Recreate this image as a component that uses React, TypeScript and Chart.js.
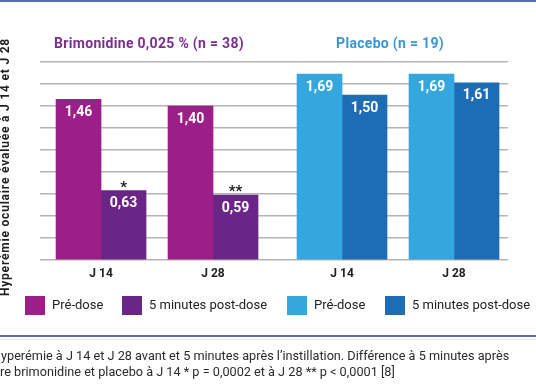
import { useEffect, useRef } from "react";
import { Chart, registerables } from "chart.js";

Chart.register(...registerables);

// ---- data ----
const categories = ["J 14", "J 28", "J 14", "J 28"];
const groupOfCategory = [0, 0, 1, 1];
const groupTitles = ["Brimonidine 0,025 % (n = 38)", "Placebo (n = 19)"];
const preDose = [1.46, 1.4, 1.69, 1.69];
const postDose = [0.63, 0.59, 1.5, 1.61];
const significance = ["*", "**", "", ""];
const legendLabels = ["Pré-dose", "5 minutes post-dose", "Pré-dose", "5 minutes post-dose"];
const yMin = 0;
const yMax = 1.8;
const yStep = 0.2;
const yAxisTitle = "Hyperémie oculaire évaluée à J 14 et J 28";
const footnoteLines = [
  "Hyperémie à J 14 et J 28 avant et 5 minutes après l’instillation. Différence à 5 minutes après",
  "entre brimonidine et placebo à J 14 * p = 0,0002 et à J 28 ** p < 0,0001 [8]",
];

// ---- styles ----
const MAGENTA = "#9c1f89";
const PURPLE = "#6a2686";
const LIGHTBLUE = "#35a7df";
const DARKBLUE = "#1d6db4";
const groupColorsPre = [MAGENTA, LIGHTBLUE];
const groupColorsPost = [PURPLE, DARKBLUE];
const titleColors = ["#7b2e8e", "#3897d3"];
const legendColors = [MAGENTA, PURPLE, LIGHTBLUE, DARKBLUE];
const FONT = "Roboto, 'DejaVu Sans', sans-serif";
const GROUP_GAP = 0.152;

const fmt = (v: number) => v.toFixed(2).replace(".", ",");

export default function App() {
  const ref = useRef<HTMLCanvasElement | null>(null);

  useEffect(() => {
    if (!ref.current) return;
    const xs = categories.map((_, i) => i + groupOfCategory[i] * GROUP_GAP);

    const overlay = {
      id: "overlay",
      afterDatasetsDraw(chart: any) {
        const ctx = chart.ctx;
        ctx.save();
        [0, 1].forEach((di) => {
          const meta = chart.getDatasetMeta(di);
          const vals = di === 0 ? preDose : postDose;
          meta.data.forEach((bar: any, i: number) => {
            ctx.fillStyle = "#ffffff";
            ctx.font = `bold 14px ${FONT}`;
            ctx.textAlign = "center";
            ctx.textBaseline = "middle";
            ctx.fillText(fmt(vals[i]), bar.x, bar.y + 13);
            if (di === 1 && significance[i]) {
              ctx.fillStyle = "#1a1a1a";
              ctx.font = `bold 15px ${FONT}`;
              ctx.textBaseline = "alphabetic";
              ctx.fillText(significance[i], bar.x, bar.y + 1);
            }
          });
        });
        ctx.restore();
      },
      afterDraw(chart: any) {
        const ctx = chart.ctx;
        const xScale = chart.scales.x;
        ctx.save();
        // top band
        ctx.fillStyle = "#5a6dad";
        ctx.fillRect(0, 0, 536, 2);
        // group titles
        ctx.font = `bold 14px ${FONT}`;
        (ctx as any).letterSpacing = "0.3px";
        ctx.textAlign = "center";
        ctx.textBaseline = "middle";
        groupTitles.forEach((t, g) => {
          const idx = groupOfCategory
            .map((gg, i) => (gg === g ? i : -1))
            .filter((i) => i >= 0);
          const cx =
            (xScale.getPixelForValue(xs[idx[0]]) +
              xScale.getPixelForValue(xs[idx[idx.length - 1]])) /
              2 -
            8;
          ctx.fillStyle = titleColors[g];
          ctx.fillText(t, cx, 44);
        });
        // y axis title
        ctx.save();
        ctx.translate(6, 167);
        ctx.rotate(-Math.PI / 2);
        ctx.fillStyle = "#1e1e1e";
        ctx.font = `bold 12px ${FONT}`;
        (ctx as any).letterSpacing = "0.8px";
        ctx.fillText(yAxisTitle, 0, 0);
        ctx.restore();
        (ctx as any).letterSpacing = "0px";
        // legend
        const boxX = [25, 122, 287, 385];
        ctx.textAlign = "left";
        ctx.textBaseline = "middle";
        ctx.font = `13px ${FONT}`;
        legendLabels.forEach((l, i) => {
          ctx.fillStyle = legendColors[i];
          ctx.fillRect(boxX[i], 296, 20, 19);
          ctx.fillStyle = "#222";
          ctx.fillText(l, boxX[i] + 27, 305.5);
        });
        // separator
        ctx.fillStyle = "#5a6dad";
        ctx.fillRect(0, 335, 536, 2);
        ctx.fillStyle = "#e4e6ee";
        ctx.fillRect(0, 339, 536, 1);
        // footnote
        ctx.fillStyle = "#2a2a2a";
        ctx.font = `12.7px ${FONT}`;
        const off1 = ctx.measureText("H").width - 1;
        const off2 = ctx.measureText("ent").width;
        ctx.fillText(footnoteLines[0], -off1, 357);
        ctx.fillText(footnoteLines[1], -off2, 372.5);
        ctx.restore();
      },
    };

    const chart = new Chart(ref.current, {
      type: "bar",
      data: {
        datasets: [
          {
            label: "Pré-dose",
            data: preDose.map((v, i) => ({ x: xs[i], y: v })),
            backgroundColor: categories.map((_, i) => groupColorsPre[groupOfCategory[i]]),
            barThickness: 45,
          },
          {
            label: "5 minutes post-dose",
            data: postDose.map((v, i) => ({ x: xs[i], y: v })),
            backgroundColor: categories.map((_, i) => groupColorsPost[groupOfCategory[i]]),
            barThickness: 45,
          },
        ],
      },
      options: {
        animation: false,
        responsive: true,
        maintainAspectRatio: false,
        layout: { padding: { top: 62, left: 40, right: 28, bottom: 97.6 } },
        plugins: { legend: { display: false }, tooltip: { enabled: false } },
        scales: {
          x: {
            type: "linear",
            offset: false,
            min: -0.545,
            max: 3.634,
            afterBuildTicks: (scale: any) => {
              scale.ticks = xs.map((v) => ({ value: v }));
            },
            ticks: {
              padding: 7,
              color: "#222",
              font: { family: FONT, size: 12, weight: "bold" },
              autoSkip: false,
              maxRotation: 0,
              callback: (_v: any, i: number) => categories[i],
            },
            grid: { display: false, drawTicks: false },
            border: { display: false },
          },
          y: {
            min: yMin,
            max: yMax,
            ticks: { display: false, stepSize: yStep },
            grid: { color: "#b4b4b4", lineWidth: 1.5, drawTicks: false },
            border: { display: false },
          },
        },
      },
      plugins: [overlay],
    } as any);
    return () => chart.destroy();
  }, []);

  return (
    <div style={{ position: "fixed", left: 0, top: 0, width: 536, height: 386, background: "#fff" }}>
      <canvas ref={ref} />
    </div>
  );
}
